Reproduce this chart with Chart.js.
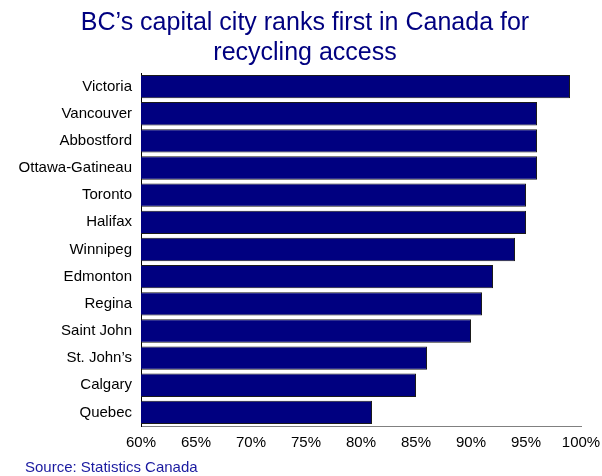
<!DOCTYPE html>
<html>
<head>
<meta charset="utf-8">
<title>Recycling access by city</title>
<script src="https://cdn.jsdelivr.net/npm/chart.js@4.4.1/dist/chart.umd.min.js"></script>
<style>
  html, body { margin: 0; padding: 0; background: #fff; }
  #wrap { width: 602px; height: 476px; }
</style>
</head>
<body>
<div id="wrap"><canvas id="recycleChart" width="602" height="476"></canvas></div>
<script>
// Share of households with access to recycling, by city
const cities = ['Victoria', 'Vancouver', 'Abbostford', 'Ottawa-Gatineau', 'Toronto', 'Halifax',
  'Winnipeg', 'Edmonton', 'Regina', 'Saint John', 'St. John\u2019s', 'Calgary', 'Quebec'];
const accessPct = [99, 96, 96, 96, 95, 95, 94, 92, 91, 90, 86, 85, 81];

const titleLines = ['BC\u2019s capital city ranks first in Canada for', 'recycling access'];
const sourceNote = 'Source: Statistics Canada';

const NAVY = '#000080';
const FONT = '"Liberation Sans", Arial, sans-serif';

// source line under the axis, indented a little from the canvas edge
const sourcePlugin = {
    id: 'sourceNote',
    afterDraw(chart) {
        const c = chart.ctx;
        c.save();
        c.font = '15px ' + FONT;
        c.fillStyle = '#1a1aa0';
        c.textAlign = 'left';
        c.textBaseline = 'middle';
        c.fillText(sourceNote, 25, chart.height - 8);
        c.restore();
    }
};

const ctx = document.getElementById('recycleChart');

new Chart(ctx, {
    type: 'bar',
    data: {
        labels: cities,
        datasets: [{
            data: accessPct,
            backgroundColor: NAVY,
            borderColor: '#1a1a1a',
            borderWidth: 1,
            borderSkipped: false,
            categoryPercentage: 1.0,
            barPercentage: 0.86
        }]
    },
    options: {
        indexAxis: 'y',
        responsive: false,
        animation: false,
        layout: { padding: { left: 8, right: 0, top: 0, bottom: 25 } },
        scales: {
            x: {
                min: 60,
                max: 100,
                grid: { display: false, drawTicks: false },
                border: { display: true, color: '#808080', width: 1 },
                ticks: {
                    stepSize: 5,
                    padding: 8,
                    color: '#000',
                    font: { family: FONT, size: 15 },
                    callback: v => v + '%'
                },
                afterFit: scale => {
                    scale.height = 25;
                    scale.paddingRight = 21;
                }
            },
            y: {
                grid: { display: false, drawTicks: false },
                border: { display: true, color: '#000', width: 1 },
                ticks: {
                    padding: 9,
                    color: '#000',
                    font: { family: FONT, size: 15 }
                },
                // keep the plot's left edge fixed regardless of label widths
                afterFit: scale => { scale.width = 133; }
            }
        },
        plugins: {
            legend: { display: false },
            tooltip: { enabled: false },
            title: {
                display: true,
                text: titleLines,
                color: NAVY,
                font: { family: FONT, size: 25, weight: 'normal', lineHeight: 1.2 },
                padding: { top: 8, bottom: 5 }
            }
        }
    },
    plugins: [sourcePlugin]
});
</script>
</body>
</html>
